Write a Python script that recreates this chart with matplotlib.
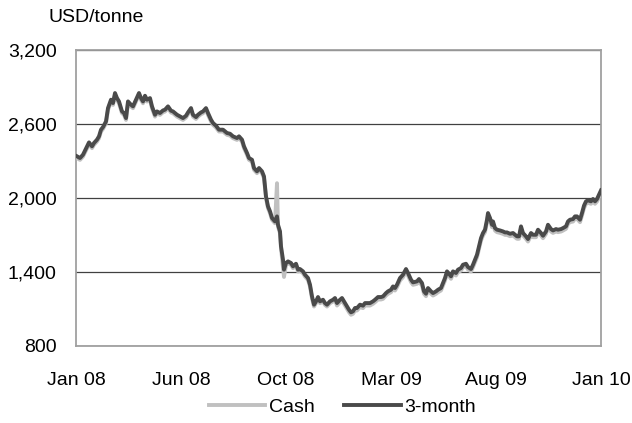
import numpy as np
import matplotlib
matplotlib.use("Agg")
import matplotlib.pyplot as plt
from matplotlib.ticker import FuncFormatter

plt.rcParams['font.family'] = ['Liberation Sans', 'DejaVu Sans']

# trading day number since start of Jan 08
days = [1, 4, 7, 11, 13, 16, 18, 21, 23, 25, 27, 30, 32, 35, 37, 39, 41, 43, 46, 48,
        50, 52, 55, 57, 60, 63, 65, 67, 69, 71, 74, 76, 79, 81, 84, 87, 89, 92, 95, 97,
        101, 104, 107, 110, 112, 115, 117, 120, 122, 125, 127, 130, 132, 135, 137, 140, 143, 147, 151, 154,
        157, 161, 163, 166, 168, 171, 173, 176, 178, 181, 183, 186, 188, 190, 192, 194, 196, 199, 201, 202,
        204, 205, 207, 208, 210, 212, 215, 217, 220, 222, 224, 227, 229, 232, 234, 236, 238, 240, 242, 244,
        247, 249, 251, 254, 257, 259, 261, 264, 266, 269, 271, 273, 275, 277, 279, 281, 284, 287, 289, 291,
        294, 297, 299, 302, 305, 307, 310, 312, 315, 317, 319, 321, 324, 327, 330, 332, 335, 337, 341, 343,
        346, 348, 350, 352, 355, 357, 360, 362, 365, 367, 369, 371, 373, 375, 377, 380, 382, 385, 387, 390,
        392, 395, 397, 399, 401, 403, 405, 407, 409, 411, 412, 414, 416, 417, 419, 421, 424, 427, 429, 431,
        434, 437, 439, 441, 443, 445, 447, 450, 452, 455, 457, 460, 462, 465, 467, 470, 472, 475, 477, 480,
        482, 485, 487, 490, 492, 494, 497, 499, 501, 504, 506, 508, 510, 512, 515, 517, 519, 521, 523, 525]

three_month = [2338, 2324, 2351, 2419, 2451, 2419, 2446, 2473, 2500, 2554, 2575, 2621, 2729, 2797, 2770, 2851, 2810, 2783, 2702, 2689,
               2648, 2783, 2756, 2743, 2797, 2851, 2810, 2783, 2829, 2797, 2810, 2743, 2675, 2702, 2689, 2710, 2716, 2743, 2708, 2702,
               2675, 2662, 2648, 2667, 2694, 2729, 2675, 2656, 2675, 2694, 2702, 2729, 2689, 2635, 2608, 2586, 2554, 2554, 2527, 2521,
               2500, 2486, 2500, 2473, 2419, 2365, 2324, 2310, 2243, 2216, 2243, 2216, 2175, 2013, 1932, 1892, 1838, 1810, 1851, 1783,
               1729, 1608, 1500, 1419, 1473, 1486, 1473, 1446, 1467, 1419, 1424, 1405, 1378, 1351, 1297, 1202, 1135, 1162, 1197, 1162,
               1175, 1148, 1135, 1162, 1175, 1189, 1148, 1175, 1189, 1148, 1121, 1094, 1073, 1081, 1108, 1108, 1135, 1127, 1148, 1148,
               1148, 1162, 1175, 1197, 1197, 1202, 1229, 1243, 1256, 1283, 1270, 1297, 1351, 1378, 1424, 1392, 1338, 1316, 1324, 1343,
               1310, 1243, 1224, 1270, 1243, 1229, 1243, 1256, 1270, 1310, 1351, 1405, 1386, 1365, 1405, 1392, 1419, 1432, 1459, 1467,
               1440, 1424, 1459, 1500, 1540, 1608, 1675, 1716, 1743, 1824, 1878, 1838, 1783, 1810, 1756, 1743, 1737, 1729, 1721, 1721,
               1710, 1716, 1702, 1689, 1689, 1770, 1716, 1689, 1667, 1716, 1702, 1702, 1743, 1716, 1694, 1729, 1783, 1748, 1737, 1748,
               1743, 1748, 1756, 1770, 1810, 1824, 1829, 1851, 1851, 1824, 1878, 1938, 1973, 1981, 1973, 1992, 1973, 1992, 2027, 2062]

cash = [2323, 2309, 2336, 2404, 2436, 2404, 2431, 2458, 2485, 2539, 2560, 2606, 2714, 2782, 2755, 2836, 2795, 2768, 2687, 2674,
        2633, 2768, 2741, 2728, 2782, 2836, 2795, 2768, 2814, 2782, 2795, 2728, 2660, 2687, 2674, 2695, 2701, 2728, 2693, 2687,
        2660, 2647, 2633, 2652, 2679, 2714, 2660, 2641, 2660, 2679, 2687, 2714, 2674, 2620, 2593, 2571, 2539, 2539, 2512, 2506,
        2485, 2471, 2485, 2458, 2404, 2350, 2309, 2295, 2228, 2201, 2228, 2201, 2160, 1998, 1917, 1877, 1823, 1795, 2120, 1768,
        1714, 1593, 1440, 1360, 1458, 1471, 1458, 1431, 1452, 1404, 1409, 1390, 1363, 1336, 1282, 1187, 1120, 1147, 1182, 1147,
        1160, 1133, 1120, 1147, 1160, 1174, 1128, 1155, 1169, 1128, 1101, 1074, 1053, 1061, 1088, 1088, 1115, 1107, 1128, 1128,
        1128, 1142, 1155, 1177, 1177, 1182, 1209, 1223, 1236, 1263, 1250, 1277, 1331, 1358, 1404, 1372, 1318, 1296, 1304, 1323,
        1290, 1223, 1204, 1250, 1223, 1209, 1223, 1236, 1250, 1290, 1331, 1385, 1366, 1345, 1385, 1372, 1399, 1412, 1439, 1447,
        1420, 1404, 1439, 1480, 1520, 1588, 1655, 1696, 1723, 1804, 1858, 1818, 1763, 1790, 1736, 1723, 1717, 1709, 1701, 1701,
        1690, 1696, 1682, 1669, 1669, 1750, 1696, 1669, 1647, 1696, 1682, 1682, 1723, 1696, 1674, 1709, 1763, 1728, 1717, 1728,
        1723, 1728, 1736, 1750, 1790, 1804, 1809, 1831, 1831, 1804, 1858, 1918, 1953, 1961, 1953, 1972, 1953, 1972, 2007, 2042]

tick_days = [0, 105, 210, 315, 420, 525]
tick_labels = ["Jan 08", "Jun 08", "Oct 08", "Mar 09", "Aug 09", "Jan 10"]
y_ticks = [800, 1400, 2000, 2600, 3200]

fig = plt.figure(figsize=(6.32, 4.23), dpi=100)
ax = fig.add_axes([76 / 632, 1 - 346 / 423, 525 / 632, 296 / 423])

ax.plot(days, cash, color='#c0c0c0', lw=2.8, label='Cash', zorder=3)
ax.plot(days, three_month, color='#4a4a4a', lw=2.8, label='3-month', zorder=4)

ax.set_xlim(0, 525)
ax.set_ylim(800, 3200)
ax.set_yticks(y_ticks)
ax.yaxis.set_major_formatter(FuncFormatter(lambda v, p: "{:,.0f}".format(v)))
ax.set_xticks(tick_days)
ax.set_xticklabels(tick_labels)
ax.tick_params(length=0, labelsize=14, colors='black')
ax.tick_params(axis='y', pad=14)
ax.tick_params(axis='x', pad=19)
ax.grid(axis='y', color='#404040', lw=0.9)
for s in ax.spines.values():
    s.set_color('#a0a0a0')
    s.set_linewidth(1.3)

fig.text(48 / 632, 1 - 18 / 423, "USD/tonne", fontsize=14, va='center', ha='left')

fig.legend(loc='center', bbox_to_anchor=(0.542, 1 - 407 / 423), ncol=2, frameon=False,
           fontsize=14, handlelength=2.9, handletextpad=0.2, columnspacing=1.5)

plt.savefig("out.png", dpi=100)
